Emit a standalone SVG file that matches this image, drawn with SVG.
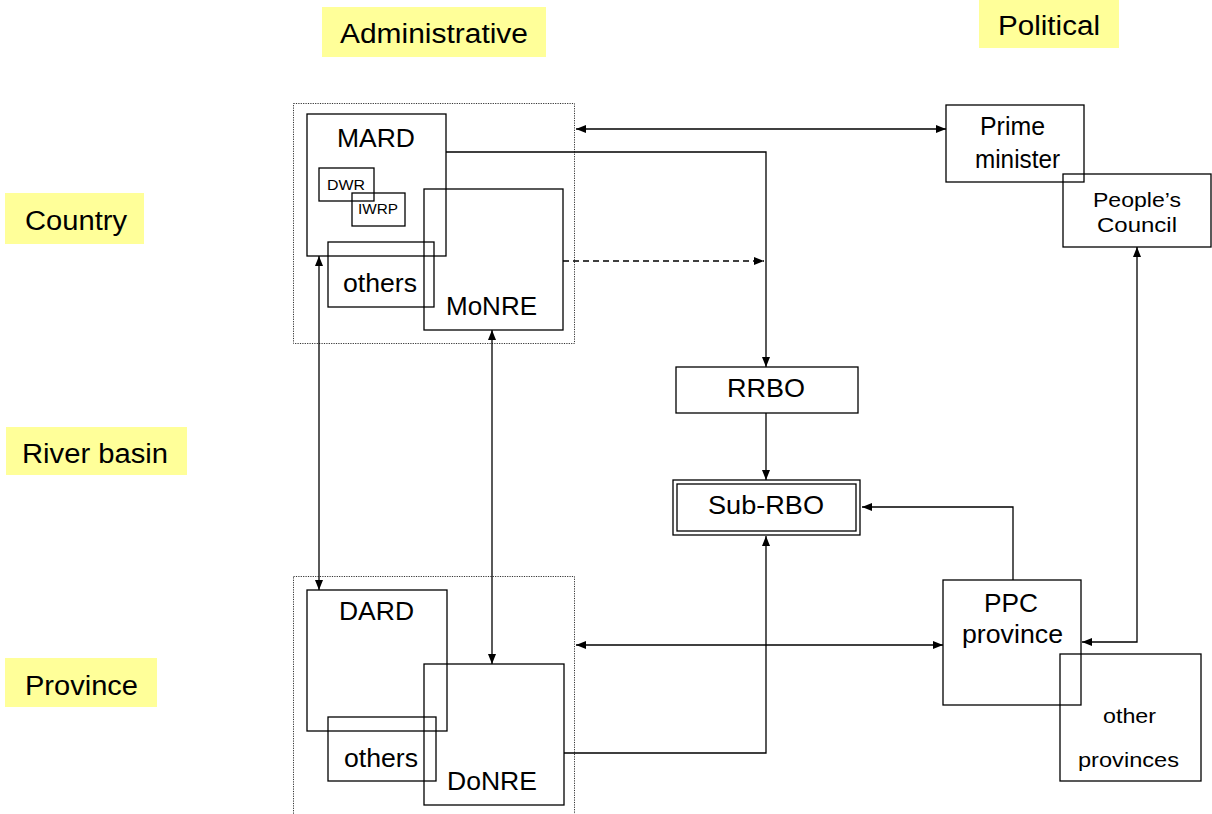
<svg xmlns="http://www.w3.org/2000/svg" width="1212" height="814" viewBox="0 0 1212 814">
<style>
text{font-family:"Liberation Sans",Arial,sans-serif;fill:#000;text-anchor:middle}
.lab{font-size:27px}
.n{font-size:25px}
.s{font-size:15px}
.m{font-size:21px}
.hl{fill:#FFFF99;stroke:none}
.box{fill:none;stroke:#000;stroke-width:1.3}
.cont{fill:none;stroke:#333;stroke-width:1;stroke-dasharray:1.2 1.2}
.c{fill:none;stroke:#000;stroke-width:1.3}
.d{stroke-dasharray:6 4}
</style>
<defs>
<marker id="ah" viewBox="0 0 10 8" refX="10" refY="4" markerWidth="10" markerHeight="8" markerUnits="userSpaceOnUse" orient="auto-start-reverse">
<path d="M0,0 L10,4 L0,8 z" fill="#000"/>
</marker>
</defs>
<rect width="1212" height="814" fill="#fff"/>

<g id="labels">
<rect class="hl" x="322" y="7" width="224" height="50"/>
<text class="lab" x="434" y="43" textLength="188" lengthAdjust="spacingAndGlyphs">Administrative</text>
<rect class="hl" x="979" y="0" width="140" height="48"/>
<text class="lab" x="1049" y="35" textLength="102" lengthAdjust="spacingAndGlyphs">Political</text>
<rect class="hl" x="5" y="193" width="139" height="51"/>
<text class="lab" x="76" y="230" textLength="102" lengthAdjust="spacingAndGlyphs">Country</text>
<rect class="hl" x="6" y="427" width="181" height="48"/>
<text class="lab" x="95" y="463" textLength="146" lengthAdjust="spacingAndGlyphs">River basin</text>
<rect class="hl" x="5" y="658" width="152" height="49"/>
<text class="lab" x="81.500" y="695" textLength="113" lengthAdjust="spacingAndGlyphs">Province</text>
</g>

<g id="country-container"><rect class="cont" x="293.500" y="103.500" width="281" height="240"/></g>
<g id="province-container"><rect class="cont" x="293.500" y="576.500" width="281" height="260"/></g>

<g id="MARD">
<rect class="box" x="307" y="114" width="139" height="142"/>
<text class="n" x="376" y="147" textLength="78" lengthAdjust="spacingAndGlyphs">MARD</text>
</g>
<g id="DWR">
<rect class="box" x="319" y="168" width="55" height="33"/>
<text class="s" x="346" y="190" textLength="38" lengthAdjust="spacingAndGlyphs">DWR</text>
</g>
<g id="IWRP">
<rect class="box" x="352" y="193" width="53" height="33"/>
<text class="s" x="378" y="214" textLength="40" lengthAdjust="spacingAndGlyphs">IWRP</text>
</g>
<g id="MoNRE">
<rect class="box" x="424" y="189" width="139" height="141"/>
<text class="n" x="491.500" y="315" textLength="91" lengthAdjust="spacingAndGlyphs">MoNRE</text>
</g>
<g id="others-country">
<rect class="box" x="328" y="242" width="106" height="65"/>
<text class="n" x="380" y="292" textLength="74" lengthAdjust="spacingAndGlyphs">others</text>
</g>

<g id="DARD">
<rect class="box" x="307" y="590" width="140" height="141"/>
<text class="n" x="376.500" y="620" textLength="75" lengthAdjust="spacingAndGlyphs">DARD</text>
</g>
<g id="DoNRE">
<rect class="box" x="424" y="664" width="140" height="141"/>
<text class="n" x="492" y="790" textLength="90" lengthAdjust="spacingAndGlyphs">DoNRE</text>
</g>
<g id="others-province">
<rect class="box" x="328" y="717" width="108" height="64"/>
<text class="n" x="381" y="767" textLength="74" lengthAdjust="spacingAndGlyphs">others</text>
</g>

<g id="RRBO">
<rect class="box" x="676" y="367" width="182" height="46"/>
<text class="n" x="766" y="397" textLength="78" lengthAdjust="spacingAndGlyphs">RRBO</text>
</g>
<g id="Sub-RBO">
<rect class="box" x="673" y="480" width="187" height="55"/>
<rect class="box" x="677" y="484" width="179" height="47"/>
<text class="n" x="766" y="514" textLength="116" lengthAdjust="spacingAndGlyphs">Sub-RBO</text>
</g>

<g id="Prime-minister">
<rect class="box" x="946" y="105" width="138" height="77"/>
<text class="n" x="1012.500" y="135" textLength="65" lengthAdjust="spacingAndGlyphs">Prime</text>
<text class="n" x="1017.500" y="168" textLength="85" lengthAdjust="spacingAndGlyphs">minister</text>
</g>
<g id="Peoples-Council">
<rect class="box" x="1063" y="174" width="148" height="73"/>
<text class="m" x="1137" y="207" textLength="88" lengthAdjust="spacingAndGlyphs">People’s</text>
<text class="m" x="1137" y="232" textLength="80" lengthAdjust="spacingAndGlyphs">Council</text>
</g>
<g id="PPC-province">
<rect class="box" x="943" y="580" width="138" height="125"/>
<text class="n" x="1011" y="612" textLength="54" lengthAdjust="spacingAndGlyphs">PPC</text>
<text class="n" x="1012.500" y="643" textLength="101" lengthAdjust="spacingAndGlyphs">province</text>
</g>
<g id="other-provinces">
<rect class="box" x="1060" y="654" width="141" height="127"/>
<text class="m" x="1129.500" y="723" textLength="53" lengthAdjust="spacingAndGlyphs">other</text>
<text class="m" x="1128.500" y="767" textLength="101" lengthAdjust="spacingAndGlyphs">provinces</text>
</g>

<g id="connectors">
<line class="c" x1="576" y1="129" x2="946" y2="129" marker-start="url(#ah)" marker-end="url(#ah)"/>
<polyline class="c" points="446,152 766,152 766,367" marker-end="url(#ah)"/>
<line class="c d" x1="563" y1="261" x2="764" y2="261" marker-end="url(#ah)"/>
<line class="c" x1="319" y1="256" x2="319" y2="590" marker-start="url(#ah)" marker-end="url(#ah)"/>
<line class="c" x1="492" y1="330" x2="492" y2="664" marker-start="url(#ah)" marker-end="url(#ah)"/>
<line class="c" x1="766" y1="413" x2="766" y2="480" marker-end="url(#ah)"/>
<polyline class="c" points="564,753 766,753 766,536" marker-end="url(#ah)"/>
<polyline class="c" points="1013,580 1013,507 862,507" marker-end="url(#ah)"/>
<polyline class="c" points="1137,247 1137,642 1082,642" marker-start="url(#ah)" marker-end="url(#ah)"/>
<line class="c" x1="576" y1="645" x2="943" y2="645" marker-start="url(#ah)" marker-end="url(#ah)"/>
</g>
</svg>
